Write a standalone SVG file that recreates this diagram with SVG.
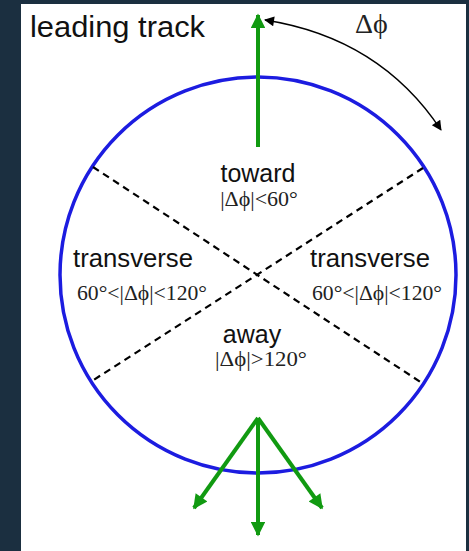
<svg xmlns="http://www.w3.org/2000/svg" width="469" height="551" viewBox="0 0 469 551">
<defs>
<marker id="gh" viewBox="0 0 10 10" refX="9" refY="5" markerWidth="5" markerHeight="3.6" markerUnits="strokeWidth" orient="auto">
<path d="M0,0 L10,5 L0,10 Z" fill="#119a11"/>
</marker>
<marker id="bh" viewBox="0 0 10 10" refX="9" refY="5" markerWidth="14" markerHeight="10" markerUnits="userSpaceOnUse" orient="auto-start-reverse">
<path d="M0,0 L10,5 L0,10 Z" fill="#000"/>
</marker>
<style>
.sans{font-family:"Liberation Sans",Arial,sans-serif;fill:#111}
.serif{font-family:"Liberation Serif","Times New Roman",serif;fill:#222}
.green{stroke:#119a11;stroke-width:4;fill:none;marker-end:url(#gh)}
.dash{stroke:#000;stroke-width:2.2;stroke-dasharray:7,5;fill:none}
</style>
</defs>
<rect width="469" height="551" fill="#1b2f40"/>
<rect x="21" y="4" width="445" height="547" fill="#fff"/>
<g id="circle"><circle cx="258" cy="275" r="198" fill="none" stroke="#1c1ce0" stroke-width="3.5"/></g>
<g id="connectors">
<line class="dash" x1="93" y1="167" x2="422" y2="383"/>
<line class="dash" x1="423" y1="168" x2="92" y2="381"/>
<line class="green" x1="258" y1="147" x2="258" y2="15"/>
<line class="green" x1="258" y1="418" x2="258" y2="535"/>
<line class="green" x1="258" y1="418" x2="194" y2="508"/>
<line class="green" x1="258" y1="418" x2="322" y2="508"/>
<path d="M265,20 Q380,38 441,130" fill="none" stroke="#000" stroke-width="1.3" marker-start="url(#bh)" marker-end="url(#bh)"/>
</g>
<g id="title"><text class="sans" x="30" y="37" font-size="29" textLength="175" lengthAdjust="spacingAndGlyphs">leading track</text></g>
<g id="dphi"><text class="serif" x="355" y="33" font-size="28">Δϕ</text></g>
<g id="toward">
<text class="sans" x="258" y="182" font-size="25" text-anchor="middle">toward</text>
<text class="serif" x="259" y="206" font-size="22" text-anchor="middle">|Δϕ|&lt;60°</text>
</g>
<g id="transverse-left">
<text class="sans" x="73" y="267" font-size="25" textLength="120" lengthAdjust="spacingAndGlyphs">transverse</text>
<text class="serif" x="77" y="300" font-size="22" textLength="130" lengthAdjust="spacingAndGlyphs">60°&lt;|Δϕ|&lt;120°</text>
</g>
<g id="transverse-right">
<text class="sans" x="310" y="267" font-size="25" textLength="120" lengthAdjust="spacingAndGlyphs">transverse</text>
<text class="serif" x="312" y="300" font-size="22" textLength="130" lengthAdjust="spacingAndGlyphs">60°&lt;|Δϕ|&lt;120°</text>
</g>
<g id="away">
<text class="sans" x="252" y="343" font-size="25" text-anchor="middle">away</text>
<text class="serif" x="215" y="366" font-size="22" textLength="92" lengthAdjust="spacingAndGlyphs">|Δϕ|&gt;120°</text>
</g>
</svg>
